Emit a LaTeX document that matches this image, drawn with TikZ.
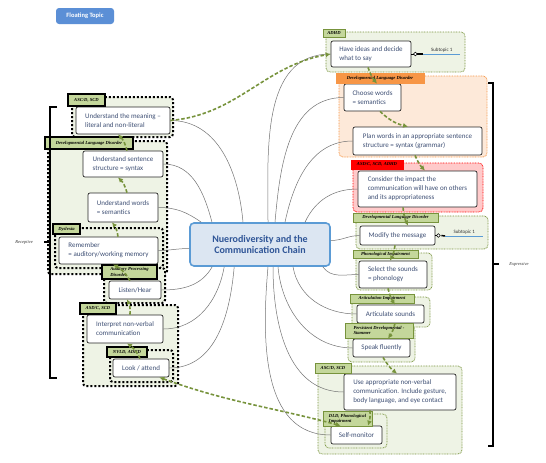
\documentclass[tikz,border=0pt]{standalone}
\usepackage{fontspec}
\setmainfont{Carlito}
\newfontfamily\tagfont{Liberation Serif}
\usepackage{xcolor}
\usetikzlibrary{arrows.meta}
\definecolor{chainGreen}{HTML}{77933C}
\definecolor{groupFill}{HTML}{EEF3E5}
\definecolor{tagFill}{HTML}{C4D79B}
\definecolor{topicText}{HTML}{3E4F74}
\definecolor{hubFill}{HTML}{DCE6F2}
\definecolor{hubLine}{HTML}{5B9BD5}
\definecolor{hubText}{HTML}{2F5597}
\definecolor{orangeFill}{HTML}{FDE9D9}
\definecolor{orangeLine}{HTML}{F79646}
\definecolor{redFill}{HTML}{FFCACA}
\definecolor{redLine}{HTML}{FF0000}
\definecolor{floatBlue}{HTML}{5B8FD6}
\tikzset{
  topic/.style = {draw = black!85, line width = 0.7pt, rounded corners = 2pt, fill = white,
    text = topicText, font = \fontsize{7}{9}\selectfont, align = left, inner sep = 0pt},
  hub/.style = {draw = hubLine, line width = 1.6pt, rounded corners = 4pt, fill = hubFill,
    text = hubText, font = \bfseries\fontsize{10}{11.5}\selectfont, align = center},
  tagL/.style = {draw = black, line width = 1.8pt, fill = tagFill, inner sep = 0pt, align = left,
    font = \tagfont\bfseries\itshape\fontsize{4.6}{5.2}\selectfont},
  tagR/.style = {tagL, draw = chainGreen, line width = 0.8pt},
  grpL/.style = {draw = black, line width = 2pt, dash pattern = on 2pt off 2pt, fill = groupFill, rounded corners = 3pt},
  grpR/.style = {draw = chainGreen, line width = 0.8pt, dash pattern = on 0.8pt off 0.8pt, fill = groupFill, rounded corners = 4pt},
  branch/.style = {black!55, line width = 0.5pt},
  flow/.style = {draw = chainGreen, line width = 1.6pt, dash pattern = on 3.5pt off 2pt, -{Latex[length = 5pt, width = 5pt]}},
  subtopic/.style = {font = \fontsize{5}{6}\selectfont, text = black!80, inner sep = 1pt, minimum height = 7pt},
  side/.style = {font = \tagfont\itshape\fontsize{4.5}{5}\selectfont, text = black!80},
}

\begin{document}
\begin{tikzpicture}[x = 1pt, y = -1pt]
			\fill [white] (0,0) rectangle (546,463);
			\useasboundingbox (0,0) rectangle (546,463);

			\begin{scope}
				\draw [grpL] (72,97) rectangle (173,137);
				\draw [grpL] (48,141) rectangle (167,274);
				\draw [grpL] (55,228) rectangle (163,268);
				\draw [grpL] (104,268) rectangle (165,303);
				\draw [grpL] (83,305) rectangle (178,386);
				\draw [grpL] (110,350) rectangle (173,382);
			\end{scope}

			\begin{scope}
				\draw [grpR] (326,32) rectangle (465,72);
				\draw [grpR, draw = orangeLine, fill = orangeFill] (339,76) rectangle (487,157);
				\draw [grpR, draw = redLine, fill = redFill] (353,163) rectangle (483,212);
				\draw [grpR] (356,216) rectangle (488,249);
				\draw [grpR] (356,253) rectangle (432,290);
				\draw [grpR] (352,297) rectangle (430,327);
				\draw [grpR] (348,326) rectangle (415,362);
				\draw [grpR] (318,366) rectangle (462,454);
				\draw [grpR] (325,414) rectangle (387,448);
			\end{scope}

			\node [fill = floatBlue, rounded corners = 3pt, text = white, font = \bfseries\fontsize{6.5}{7}\selectfont,
				minimum width = 58pt, minimum height = 16pt, inner sep = 0pt] (floating) at (85,16) {Floating Topic};
			\node [hub, minimum width = 140pt, minimum height = 43pt] (hub) at (260,244.5) {Nuerodiversity and the\\Communication Chain};

			\node [topic, minimum width = 94pt, minimum height = 27pt] (meaning) at (123,120.5) {Understand the meaning --\\literal and non-literal};
			\node [topic, minimum width = 80pt, minimum height = 26pt] (sentence) at (123,164) {Understand sentence\\structure = syntax};
			\node [topic, minimum width = 70pt, minimum height = 29pt] (words) at (123,207.5) {Understand words\\= semantics};
			\node [topic, minimum width = 99pt, minimum height = 27pt] (remember) at (108.5,250.5) {Remember\\= auditory/working memory};
			\node [topic, minimum width = 52pt, minimum height = 18pt] (listen) at (135,290) {Listen/Hear};
			\node [topic, minimum width = 76pt, minimum height = 28pt] (interpret) at (125,329) {Interpret non-verbal\\communication};
			\node [topic, minimum width = 56pt, minimum height = 18pt] (look) at (141,368) {Look / attend};

			\node [topic, minimum width = 80pt, minimum height = 26pt] (ideas) at (371,54) {Have ideas and decide\\what to say};
			\node [topic, minimum width = 57pt, minimum height = 27pt] (choose) at (372.5,97.5) {Choose words\\= semantics};
			\node [topic, minimum width = 129pt, minimum height = 28pt] (plan) at (417.5,141) {Plan words in an appropriate sentence\\structure = syntax (grammar)};
			\node [topic, minimum width = 119pt, minimum height = 36pt] (consider) at (417.5,189) {Consider the impact the\\communication will have on others\\and its appropriateness};
			\node [topic, minimum width = 75pt, minimum height = 19pt] (modify) at (397.5,235.5) {Modify the message};
			\node [topic, minimum width = 68pt, minimum height = 27pt] (select) at (393,274.5) {Select the sounds\\= phonology};
			\node [topic, minimum width = 67pt, minimum height = 18pt] (articulate) at (390.5,314) {Articulate sounds};
			\node [topic, minimum width = 57pt, minimum height = 18pt] (speak) at (381.5,348) {Speak fluently};
			\node [topic, minimum width = 112pt, minimum height = 36pt] (nonverbal) at (400,392) {Use appropriate non-verbal\\communication. Include gesture,\\body language, and eye contact};
			\node [topic, minimum width = 51pt, minimum height = 18pt] (selfmon) at (356.5,435) {Self-monitor};

			\begin{scope}
				\node [tagL, minimum width = 37pt, minimum height = 12pt] (tagA) at (86.5,100) {ASC/D, SCD};
				\node [tagL, minimum width = 88pt, minimum height = 12pt] (tagB) at (89,143) {Developmental Language Disorder};
				\node [tagL, minimum width = 27pt, minimum height = 10pt] (tagC) at (66.5,229) {Dyslexia};
				\node [tagL, minimum width = 55pt, minimum height = 14pt] (tagD) at (129.5,272) {Auditory Processing\\Disorder};
				\node [tagL, minimum width = 36pt, minimum height = 11pt] (tagE) at (98,308.5) {ASD/C, SCD};
				\node [tagL, minimum width = 40pt, minimum height = 10pt] (tagF) at (127,352) {NVLD, ADHD};
			\end{scope}

			\begin{scope}
				\node [tagR, minimum width = 22pt, minimum height = 8pt] (tagG) at (334,33) {ADHD};
				\node [tagR, draw = orangeLine, fill = orangeLine, minimum width = 88pt, minimum height = 10pt] (tagH) at (380,78) {Developmental Language Disorder};
				\node [tagR, draw = redLine, fill = redLine, minimum width = 52pt, minimum height = 9pt] (tagI) at (377,164.5) {ASD/C, SCD, ADHD};
				\node [tagR, minimum width = 85pt, minimum height = 9pt] (tagJ) at (395.5,217.5) {Developmental Language Disorder};
				\node [tagR, minimum width = 65pt, minimum height = 8pt] (tagK) at (385.5,254) {Phonological Impairment};
				\node [tagR, minimum width = 64pt, minimum height = 9pt] (tagL) at (382,298.5) {Articulation Impairment};
				\node [tagR, minimum width = 68pt, minimum height = 15pt] (tagM) at (379,330.5) {Persistent Developmental -\\Stammer};
				\node [tagR, minimum width = 36pt, minimum height = 10pt] (tagN) at (333,368) {ASC/D, SCD};
				\node [tagR, minimum width = 49pt, minimum height = 15pt] (tagO) at (347.5,418.5) {DLD, Phonological\\Impairment};
			\end{scope}

			\begin{scope}[branch]
				\draw (meaning.east) to [out = 0, in = 95] ([xshift = -17pt]hub.north);
				\draw (sentence.east) to [out = 0, in = 105] ([xshift = -48pt]hub.north);
				\draw (words.east) to [out = 0, in = 145] ([xshift = 12pt]hub.north west);
				\draw (remember.east) to [out = 0, in = 180] ([yshift = -4pt]hub.west);
				\draw (listen.east) to [out = 0, in = -120] ([xshift = 23pt]hub.south west);
				\draw (interpret.east) to [out = 0, in = -100] ([xshift = 35pt]hub.south west);
				\draw (look.east) to [out = 0, in = -95] ([xshift = 45pt]hub.south west);

				\draw ([xshift = 8pt]hub.north) to [out = 90, in = 180] (ideas.west);
				\draw ([xshift = 15pt]hub.north) to [out = 85, in = 180] (choose.west);
				\draw ([xshift = 25pt]hub.north) to [out = 78, in = 180] (plan.west);
				\draw ([xshift = 45pt]hub.north) to [out = 65, in = 180] (consider.west);
				\draw ([yshift = 4pt]hub.east) to [out = 0, in = 180] (modify.west);
				\draw ([xshift = -8pt]hub.south east) to [out = -55, in = 180] (select.west);
				\draw ([xshift = 33pt]hub.south) to [out = -80, in = 180] (articulate.west);
				\draw ([xshift = 18pt]hub.south) to [out = -85, in = 180] (speak.west);
				\draw ([xshift = 13pt]hub.south) to [out = -90, in = 180] (nonverbal.west);
				\draw ([xshift = 8pt]hub.south) to [out = -95, in = 180] (selfmon.west);
			\end{scope}

			\begin{scope}[flow]
				\draw ([xshift = -1pt]look.north) to [bend right = 15] ([xshift = 2pt]interpret.south);
				\draw ([xshift = 5pt]interpret.north) to [bend right = 15] ([xshift = -8pt]listen.south);
				\draw ([xshift = -5pt]listen.north) to [bend right = 15] ([xshift = 4.5pt]remember.south);
				\draw ([xshift = 9.5pt]remember.north) to [bend right = 15] ([xshift = -11pt]words.south);
				\draw ([xshift = 4pt]words.north) to [bend right = 15] ([xshift = -5pt]sentence.south);
				\draw ([xshift = 4pt]sentence.north) to [bend right = 15] ([xshift = -5pt]meaning.south);
				\draw (meaning.east) to [out = 5, in = 190] (ideas.west);

				\draw ([xshift = -3pt]ideas.south) to [bend right = 10] ([xshift = 4.5pt]choose.north);
				\draw ([xshift = 7.5pt]choose.south) to [bend right = 15] ([xshift = -9.5pt]plan.north);
				\draw ([xshift = -2.5pt]plan.south) to [bend right = 10] ([xshift = 7.5pt]consider.north);
				\draw ([xshift = -14.5pt]consider.south) to [bend right = 10] ([xshift = 10.5pt]modify.north);
				\draw ([xshift = -2.5pt]modify.south) to [bend left = 10] ([xshift = -3pt]select.north);
				\draw ([xshift = -5pt]select.south) to [bend right = 10] ([xshift = 4.5pt]articulate.north);
				\draw ([xshift = 4.5pt]articulate.south) to [bend left = 10] ([xshift = 6.5pt]speak.north);
				\draw ([xshift = 1.5pt]speak.south) to [bend right = 10] ([xshift = -3pt]nonverbal.north);
				\draw ([xshift = -30pt]nonverbal.south) to [bend left = 10] ([xshift = 11.5pt]selfmon.north);
				\draw [{Latex[length = 5pt, width = 5pt]}-{Latex[length = 5pt, width = 5pt]}]
					([xshift = -10pt]look.south east) to [out = -20, in = 165] ([xshift = 10pt]selfmon.north west);
			\end{scope}

			\begin{scope}
				\node [subtopic, anchor = south west, minimum width = 37pt] (subA) at (423,54) {Subtopic 1};
				\node [subtopic, anchor = south west, minimum width = 38pt] (subB) at (445,236) {Subtopic 1};
				\draw [hubLine, line width = 1pt] (subA.south west) -- (subA.south east);
				\draw [hubLine, line width = 1pt] (subB.south west) -- (subB.south east);
				\draw [line width = 1.5pt] ([xshift = 6pt]ideas.east) -- (subA.south west);
				\draw [line width = 1.5pt] ([xshift = 6pt]modify.east) -- (subB.south west);
				\draw [line width = 0.5pt] (ideas.east) -- ([xshift = 4pt]ideas.east);
				\draw [line width = 0.5pt] (modify.east) -- ([xshift = 3pt]modify.east);
				\draw [fill = white, line width = 0.5pt] ([xshift = 4pt]ideas.east) circle (1.8pt);
				\draw [fill = white, line width = 0.5pt] ([xshift = 3pt]modify.east) circle (1.8pt);
			\end{scope}

			\begin{scope}[line width = 2pt]
				\draw (57,107) -- (50,107) -- (50,378) -- (57,378);
				\draw (50,242) -- (44,242);
				\draw (488,83) -- (493,83) -- (493,446) -- (488,446);
				\draw (493,264) -- (499,264);
			\end{scope}
			\node [side] (receptive) at (24,242) {Receptive};
			\node [side] (expressive) at (519,264) {Expressive};
		\end{tikzpicture}
\end{document}
